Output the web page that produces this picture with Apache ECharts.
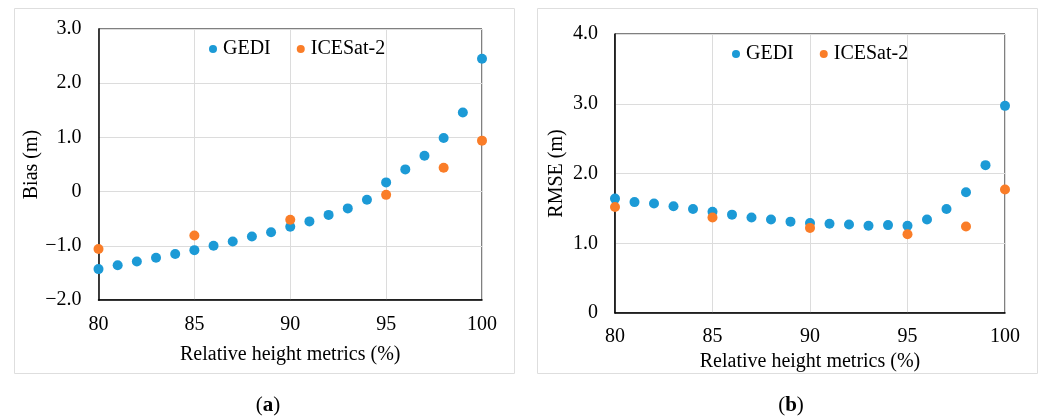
<!DOCTYPE html>
<html>
<head>
<meta charset="utf-8">
<script src="https://cdn.jsdelivr.net/npm/echarts@6/dist/echarts.min.js"></script>
<style>
  html, body { margin: 0; padding: 0; background: #fff; }
  #chart { width: 1040px; height: 418px; }
</style>
</head>
<body>
<div id="chart"></div>
<script>
// relative height metrics (x)
var rhGedi = [80, 81, 82, 83, 84, 85, 86, 87, 88, 89, 90, 91, 92, 93, 94, 95, 96, 97, 98, 99, 100]
var rhIcesat = [80, 85, 90, 95, 98, 100]
// (a) Bias
var biasGedi = [-1.43, -1.36, -1.29, -1.22, -1.15, -1.08, -1.00, -0.92, -0.83, -0.75, -0.65, -0.55, -0.43, -0.31, -0.15, 0.17, 0.41, 0.66, 0.99, 1.46, 2.45]
var biasIcesat = [-1.06, -0.81, -0.52, -0.06, 0.44, 0.94]
// (b) RMSE
var rmseGedi = [1.64, 1.59, 1.57, 1.53, 1.49, 1.45, 1.41, 1.37, 1.34, 1.31, 1.29, 1.28, 1.27, 1.25, 1.26, 1.25, 1.34, 1.49, 1.73, 2.12, 2.97]
var rmseIcesat = [1.52, 1.37, 1.22, 1.13, 1.24, 1.77]

var FONT = '"Liberation Serif", "Times New Roman", serif'
var FS = 20
var BLUE = '#1c9ad6'
var ORANGE = '#fa7d28'

function pairs(xs, ys) {
  return xs.map(function (x, i) { return [x, ys[i]] })
}
function fmtY(v) {
  if (v === 0) return '0'
  return v.toFixed(1).replace('-', '\u2212')
}

var myChart = echarts.init(document.getElementById('chart'))

function xAxisOpt(idx, labelMargin, nameGap) {
  return {
    gridIndex: idx,
    type: 'value',
    min: 80, max: 100, interval: 5,
    name: 'Relative height metrics (%)',
    nameLocation: 'middle',
    nameGap: nameGap,
    nameTextStyle: { fontFamily: FONT, fontSize: FS, color: '#000' },
    axisLine: { onZero: false, lineStyle: { color: '#000', width: 1.5 } },
    axisTick: { show: false },
    axisLabel: { margin: labelMargin, fontFamily: FONT, fontSize: FS, color: '#000' },
    splitLine: { show: true, lineStyle: { color: '#dcdcdc', width: 1 } }
  }
}
function yAxisOpt(idx, name, min, max, nameGap) {
  return {
    gridIndex: idx,
    type: 'value',
    min: min, max: max, interval: 1,
    name: name,
    nameLocation: 'middle',
    nameGap: nameGap,
    nameTextStyle: { fontFamily: FONT, fontSize: FS, color: '#000' },
    axisLine: { show: true, onZero: false, lineStyle: { color: '#000', width: 1.5 } },
    axisTick: { show: false },
    axisLabel: { margin: 17, fontFamily: FONT, fontSize: FS, color: '#000', formatter: fmtY },
    splitLine: { show: true, lineStyle: { color: '#dcdcdc', width: 1 } }
  }
}
function legendOpt(left, top) {
  return {
    left: left, top: top,
    itemWidth: 10, itemHeight: 8, itemGap: 26,
    icon: 'circle',
    textStyle: { fontFamily: FONT, fontSize: FS, color: '#000' },
    data: ['GEDI', 'ICESat-2']
  }
}

myChart.setOption({
  animation: false,
  graphic: [
    { type: 'rect', shape: { x: 14.5, y: 8.5, width: 500, height: 365 }, style: { fill: 'none', stroke: '#dedede', lineWidth: 1 }, z: -1 },
    { type: 'rect', shape: { x: 537.5, y: 8.5, width: 500, height: 365 }, style: { fill: 'none', stroke: '#dedede', lineWidth: 1 }, z: -1 }
  ],
  title: [
    {
      text: '({b|a})', left: 263, top: 390, textAlign: 'center',
      textStyle: { fontFamily: FONT, fontSize: 21, fontWeight: 'normal', color: '#000', rich: { b: { fontFamily: FONT, fontSize: 21, fontWeight: 'bold' } } }
    },
    {
      text: '({b|b})', left: 786, top: 390, textAlign: 'center',
      textStyle: { fontFamily: FONT, fontSize: 21, fontWeight: 'normal', color: '#000', rich: { b: { fontFamily: FONT, fontSize: 21, fontWeight: 'bold' } } }
    }
  ],
  legend: [legendOpt(204, 34), legendOpt(727, 39)],
  grid: [
    { left: 98.5, top: 29, width: 383.5, height: 271, show: true, borderColor: '#000', borderWidth: 1 },
    { left: 615, top: 34, width: 390, height: 279, show: true, borderColor: '#000', borderWidth: 1 }
  ],
  xAxis: [xAxisOpt(0, 15, 45), xAxisOpt(1, 14, 37)],
  yAxis: [yAxisOpt(0, 'Bias (m)', -2, 3, 50), yAxisOpt(1, 'RMSE (m)', 0, 4, 48)],
  series: [
    { name: 'GEDI', type: 'scatter', xAxisIndex: 0, yAxisIndex: 0, symbolSize: 10, itemStyle: { color: BLUE, opacity: 1 }, data: pairs(rhGedi, biasGedi) },
    { name: 'ICESat-2', type: 'scatter', xAxisIndex: 0, yAxisIndex: 0, symbolSize: 10, itemStyle: { color: ORANGE, opacity: 1 }, data: pairs(rhIcesat, biasIcesat) },
    { name: 'GEDI', type: 'scatter', xAxisIndex: 1, yAxisIndex: 1, symbolSize: 10, itemStyle: { color: BLUE, opacity: 1 }, data: pairs(rhGedi, rmseGedi) },
    { name: 'ICESat-2', type: 'scatter', xAxisIndex: 1, yAxisIndex: 1, symbolSize: 10, itemStyle: { color: ORANGE, opacity: 1 }, data: pairs(rhIcesat, rmseIcesat) }
  ]
})
</script>
</body>
</html>
